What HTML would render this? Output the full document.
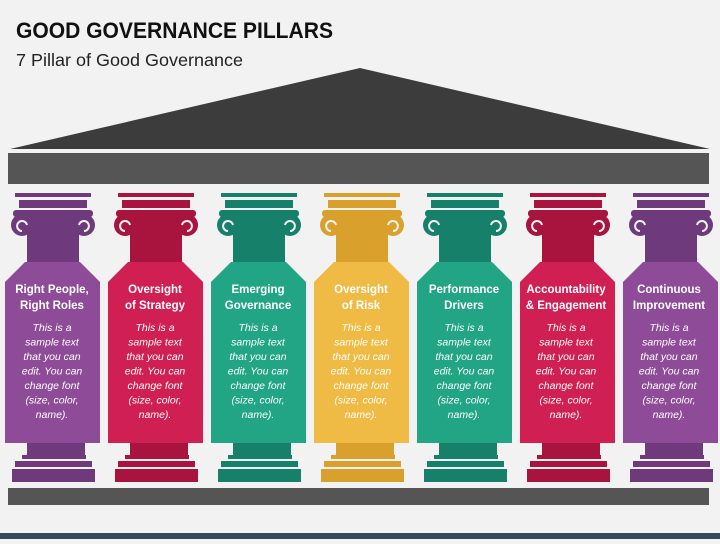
<!DOCTYPE html>
<html><head><meta charset="utf-8"><style>
body{margin:0;width:720px;height:539px;background:#f2f2f2;overflow:hidden;font-family:"Liberation Sans",sans-serif}
</style></head><body>
<svg width="720" height="539" viewBox="0 0 720 539" xmlns="http://www.w3.org/2000/svg">
<rect width="720" height="539" fill="#f2f2f2"/>
<text x="16" y="38" font-family="Liberation Sans, sans-serif" font-weight="bold" font-size="22" fill="#111" textLength="317" lengthAdjust="spacingAndGlyphs">GOOD GOVERNANCE PILLARS</text>
<text x="16" y="66" font-family="Liberation Sans, sans-serif" font-size="17.5" fill="#222" textLength="227" lengthAdjust="spacingAndGlyphs">7 Pillar of Good Governance</text>
<polygon points="10,149 360,68 710,149" fill="#3c3c3c"/>
<rect x="8" y="153" width="701" height="31" fill="#555"/>
<rect x="8" y="488" width="701" height="17" fill="#555"/>
<rect x="0" y="533" width="720" height="6" fill="#34495e"/>
<defs>
<g id="p">
<rect x="10" y="193" width="76" height="4"/>
<rect x="14" y="200" width="68" height="8"/>
<rect x="8" y="210" width="80" height="7" rx="3"/>
<circle cx="17" cy="225" r="11"/>
<circle cx="79" cy="225" r="11"/>
<rect x="22" y="212" width="52" height="52"/>
<rect x="22" y="443" width="58" height="12"/>
<rect x="17" y="455" width="64" height="4"/>
<rect x="10" y="461" width="77" height="6"/>
<rect x="7" y="469" width="83" height="13"/>
</g>
<g id="s" fill="none" stroke="#f2f2f2" stroke-width="2">
<path d="M17 231 a5 5 0 1 1 5 -6"/>
<path d="M79 231 a5 5 0 1 0 -5 -6"/>
</g>
</defs>
<g font-family="Liberation Sans, sans-serif" fill="#fff" text-anchor="middle">
<g transform="translate(5,0)"><use href="#p" fill="#6e3a7c"/><use href="#s"/><polygon points="20,262 75,262 95,282 95,443 0,443 0,282" fill="#8e4b98"/></g>
<g transform="translate(108,0)"><use href="#p" fill="#a8143e"/><use href="#s"/><polygon points="20,262 75,262 95,282 95,443 0,443 0,282" fill="#d01f52"/></g>
<g transform="translate(211,0)"><use href="#p" fill="#17806a"/><use href="#s"/><polygon points="20,262 75,262 95,282 95,443 0,443 0,282" fill="#21a585"/></g>
<g transform="translate(314,0)"><use href="#p" fill="#d9a12c"/><use href="#s"/><polygon points="20,262 75,262 95,282 95,443 0,443 0,282" fill="#efbb44"/></g>
<g transform="translate(417,0)"><use href="#p" fill="#17806a"/><use href="#s"/><polygon points="20,262 75,262 95,282 95,443 0,443 0,282" fill="#21a585"/></g>
<g transform="translate(520,0)"><use href="#p" fill="#a8143e"/><use href="#s"/><polygon points="20,262 75,262 95,282 95,443 0,443 0,282" fill="#d01f52"/></g>
<g transform="translate(623,0)"><use href="#p" fill="#6e3a7c"/><use href="#s"/><polygon points="20,262 75,262 95,282 95,443 0,443 0,282" fill="#8e4b98"/></g>
<g font-weight="bold" font-size="11.5">
<text x="52" y="293">Right People,</text><text x="52" y="309">Right Roles</text>
<text x="155" y="293">Oversight</text><text x="155" y="309">of Strategy</text>
<text x="258" y="293">Emerging</text><text x="258" y="309">Governance</text>
<text x="361" y="293">Oversight</text><text x="361" y="309">of Risk</text>
<text x="464" y="293">Performance</text><text x="464" y="309">Drivers</text>
<text x="566" y="293">Accountability</text><text x="566" y="309">&amp; Engagement</text>
<text x="669" y="293">Continuous</text><text x="669" y="309">Improvement</text>
</g>
<g font-style="italic" font-size="10.5">
<g id="t">
<text x="52" y="331">This is a</text><text x="52" y="345.5">sample text</text><text x="52" y="360">that you can</text><text x="52" y="374.5">edit. You can</text><text x="52" y="389">change font</text><text x="52" y="403.5">(size, color,</text><text x="52" y="418">name).</text>
</g>
<use href="#t" x="103"/><use href="#t" x="206"/><use href="#t" x="309"/><use href="#t" x="412"/><use href="#t" x="514"/><use href="#t" x="617"/>
</g>
</g>
</svg>
</body></html>
